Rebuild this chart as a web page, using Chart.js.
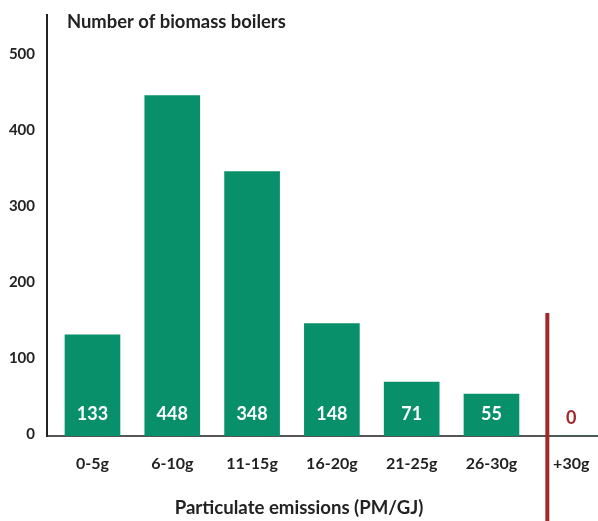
<!DOCTYPE html>
<html><head><meta charset="utf-8">
<script src="https://cdn.jsdelivr.net/npm/chart.js@4"></script>
<style>html,body{margin:0;padding:0;background:#fff}#wrap{width:598px;height:521px}</style>
</head><body><div id="wrap"><canvas id="c" width="598" height="521"></canvas></div>
<script>
const categories = ['0-5g', '6-10g', '11-15g', '16-20g', '21-25g', '26-30g', '+30g'];
const boilerCounts = [133, 448, 348, 148, 71, 55, 0];
const yTickValues = [0, 100, 200, 300, 400, 500];
const yAxisTitle = 'Number of biomass boilers';
const xAxisTitle = 'Particulate emissions (PM/GJ)';
const thresholdPosition = 5.7;   // between '26-30g' and '+30g'
const thresholdTopValue = 162;

const GREEN = '#07906a';
const RED = '#a3272b';
const INK = '#222222';

Chart.defaults.font.family = 'Lato, "Open Sans", sans-serif';

const overlay = {
  id: 'overlay',
  afterDatasetsDraw(chart) {
    const {ctx, chartArea, scales: {x, y}} = chart;
    ctx.save();
    // threshold line
    const lx = x.getPixelForValue(thresholdPosition);
    ctx.strokeStyle = RED;
    ctx.lineWidth = 4;
    ctx.beginPath();
    ctx.moveTo(lx, y.getPixelForValue(thresholdTopValue));
    ctx.lineTo(lx, chart.height);
    ctx.stroke();
    // value labels
    const meta = chart.getDatasetMeta(0);
    ctx.font = 'bold 18px Lato, sans-serif';
    ctx.textAlign = 'center';
    ctx.textBaseline = 'middle';
    meta.data.forEach((bar, i) => {
      const v = boilerCounts[i];
      ctx.fillStyle = v === 0 ? RED : '#ffffff';
      ctx.fillText(String(v), bar.x, y.getPixelForValue(0) - (v === 0 ? 18 : 22));
    });
    // titles
    ctx.fillStyle = INK;
    ctx.font = 'bold 18.4px Lato, sans-serif';
    ctx.textAlign = 'left';
    ctx.fillText(yAxisTitle, chartArea.left + 20, 22);
    ctx.font = 'bold 18.6px Lato, sans-serif';
    ctx.textAlign = 'center';
    ctx.fillText(xAxisTitle, chart.width / 2, 508);
    ctx.restore();
  }
};

new Chart(document.getElementById('c'), {
  type: 'bar',
  data: {
    labels: categories,
    datasets: [{
      data: boilerCounts,
      backgroundColor: GREEN,
      borderWidth: 0,
      barThickness: 55
    }]
  },
  options: {
    responsive: false,
    animation: false,
    layout: {padding: {top: 15, right: 0, left: 0, bottom: 0}},
    plugins: {legend: {display: false}, tooltip: {enabled: false}, title: {display: false}},
    scales: {
      x: {
        grid: {display: false, drawTicks: false},
        border: {display: true, color: '#555555', width: 2},
        ticks: {color: INK, font: {size: 16, weight: 'bold'}, padding: 18, maxRotation: 0, autoSkip: false},
        afterFit: (s) => { s.height = 85; s.paddingLeft = 0; s.paddingRight = 0; },
        afterUpdate: (s) => { s._startValue = -0.57; s._valueRange = 6.905; }
      },
      y: {
        min: 0, max: 554,
        grid: {display: false, drawTicks: false},
        border: {display: true, color: INK, width: 2},
        ticks: {color: INK, font: {size: 15, weight: 'bold'}, padding: 12, labelOffset: -2},
        afterBuildTicks: (s) => { s.ticks = yTickValues.map(v => ({value: v})); },
        afterFit: (s) => { s.width = 47; s.paddingTop = 0; s.paddingBottom = 0; }
      }
    }
  },
  plugins: [overlay]
});
</script>
</body></html>
